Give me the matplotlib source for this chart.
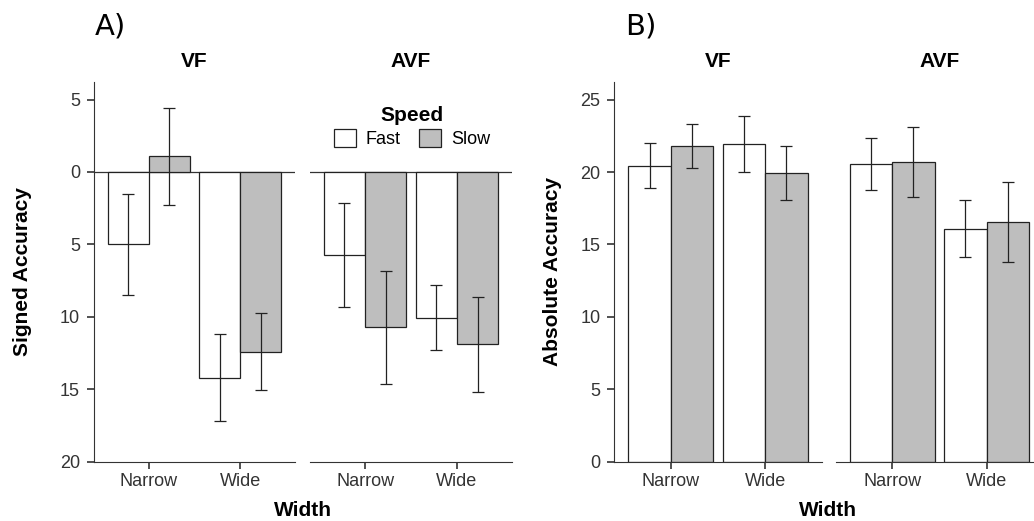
import matplotlib
matplotlib.use('Agg')
import matplotlib.pyplot as plt
from matplotlib.patches import Patch
from matplotlib.ticker import FuncFormatter

plt.rcParams['font.family'] = ['Liberation Sans', 'DejaVu Sans']

# data
widths = ['Narrow', 'Wide']
speeds = ['Fast', 'Slow']
groups = ['VF', 'AVF']

# signed accuracy (axis drawn reversed)
signed_fast = {'VF': [5.0, 14.2], 'AVF': [5.75, 10.05]}
signed_fast_err = {'VF': [3.5, 3.0], 'AVF': [3.6, 2.25]}
signed_slow = {'VF': [-1.08, 12.4], 'AVF': [10.73, 11.9]}
signed_slow_err = {'VF': [3.35, 2.65], 'AVF': [3.9, 3.3]}

# absolute accuracy
abs_fast = {'VF': [20.43, 21.94], 'AVF': [20.54, 16.09]}
abs_fast_err = {'VF': [1.55, 1.95], 'AVF': [1.8, 1.95]}
abs_slow = {'VF': [21.8, 19.92], 'AVF': [20.7, 16.55]}
abs_slow_err = {'VF': [1.55, 1.85], 'AVF': [2.43, 2.77]}

W, H = 1034, 521
GRAY = '#bebebe'
DARK = '#333333'
EDGE = '#222222'


def px_axes(fig, x0, x1, y0, y1):
    return fig.add_axes([x0 / W, 1 - y1 / H, (x1 - x0) / W, (y1 - y0) / H])


def facet(ax, fast, fast_err, slow, slow_err, first, ylim, yticks):
    x = [1, 2]
    bw = 0.45
    xf = [i - bw / 2 for i in x]
    xs = [i + bw / 2 for i in x]
    ax.bar(xf, fast, width=bw, color='white', edgecolor=EDGE, linewidth=0.9, zorder=2)
    ax.bar(xs, slow, width=bw, color=GRAY, edgecolor=EDGE, linewidth=0.9, zorder=2)
    ax.errorbar(xf, fast, yerr=fast_err, fmt='none', ecolor=EDGE, elinewidth=0.9,
                capsize=4.3, capthick=0.9, zorder=3)
    ax.errorbar(xs, slow, yerr=slow_err, fmt='none', ecolor=EDGE, elinewidth=0.9,
                capsize=4.3, capthick=0.9, zorder=3)
    ax.set_xlim(0.4, 2.6)
    ax.set_ylim(*ylim)
    ax.set_xticks(x)
    ax.set_xticklabels(widths)
    for s in ['top', 'right']:
        ax.spines[s].set_visible(False)
    ax.spines['bottom'].set_color(DARK)
    ax.spines['left'].set_color(DARK)
    ax.tick_params(axis='x', length=5, width=1.2, color=DARK, pad=3,
                   labelsize=13, labelcolor=DARK)
    if first:
        ax.set_yticks(yticks)
        ax.tick_params(axis='y', length=5, width=1.2, color=DARK, pad=5,
                       labelsize=13, labelcolor=DARK)
    else:
        ax.spines['left'].set_visible(False)
        ax.tick_params(axis='y', left=False, labelleft=False)


fig = plt.figure(figsize=(W / 100, H / 100), dpi=100)

# ---- panel A: signed accuracy
a_pos = {'VF': (94, 295), 'AVF': (310, 512)}
for g in groups:
    ax = px_axes(fig, a_pos[g][0], a_pos[g][1], 82, 461.7)
    facet(ax, signed_fast[g], signed_fast_err[g], signed_slow[g], signed_slow_err[g],
          g == 'VF', (20, -6.21), [-5, 0, 5, 10, 15, 20])
    ax.axhline(0, color=DARK, linewidth=0.9, zorder=1)
    ax.yaxis.set_major_formatter(FuncFormatter(lambda v, p: '%d' % abs(v)))
    ax.set_title(g, fontsize=15, fontweight='bold', pad=10.5)

# ---- panel B: absolute accuracy
b_pos = {'VF': (614.3, 821.7), 'AVF': (835.7, 1043.1)}
for g in groups:
    ax = px_axes(fig, b_pos[g][0], b_pos[g][1], 81.7, 461.7)
    facet(ax, abs_fast[g], abs_fast_err[g], abs_slow[g], abs_slow_err[g],
          g == 'VF', (0, 26.24), [0, 5, 10, 15, 20, 25])
    ax.set_title(g, fontsize=15, fontweight='bold', pad=10.5)

# axis labels
fig.text(23 / W, 1 - 272 / H, 'Signed Accuracy', rotation=90, fontsize=15,
         fontweight='bold', ha='center', va='center')
fig.text(552.5 / W, 1 - 272 / H, 'Absolute Accuracy', rotation=90, fontsize=15,
         fontweight='bold', ha='center', va='center')
fig.text(302.5 / W, 1 - 510 / H, 'Width', fontsize=15, fontweight='bold',
         ha='center', va='center')
fig.text(828 / W, 1 - 510 / H, 'Width', fontsize=15, fontweight='bold',
         ha='center', va='center')

# panel tags
fig.text(95 / W, 1 - 26 / H, 'A)', fontsize=21, family='DejaVu Sans', va='center')
fig.text(625 / W, 1 - 26 / H, 'B)', fontsize=21, family='DejaVu Sans', va='center')

# legend
handles = [Patch(facecolor='white', edgecolor=EDGE, linewidth=0.9),
           Patch(facecolor=GRAY, edgecolor=EDGE, linewidth=0.9)]
fig.legend(handles, speeds, ncol=2, title='Speed', frameon=False,
           loc='center', bbox_to_anchor=(412 / W, 1 - 127 / H),
           fontsize=13, title_fontproperties={'weight': 'bold', 'size': 15},
           handlelength=1.22, handleheight=1.22, handletextpad=0.55,
           columnspacing=1.0, borderpad=0, labelspacing=0.2)

plt.savefig('out.png', dpi=100)
